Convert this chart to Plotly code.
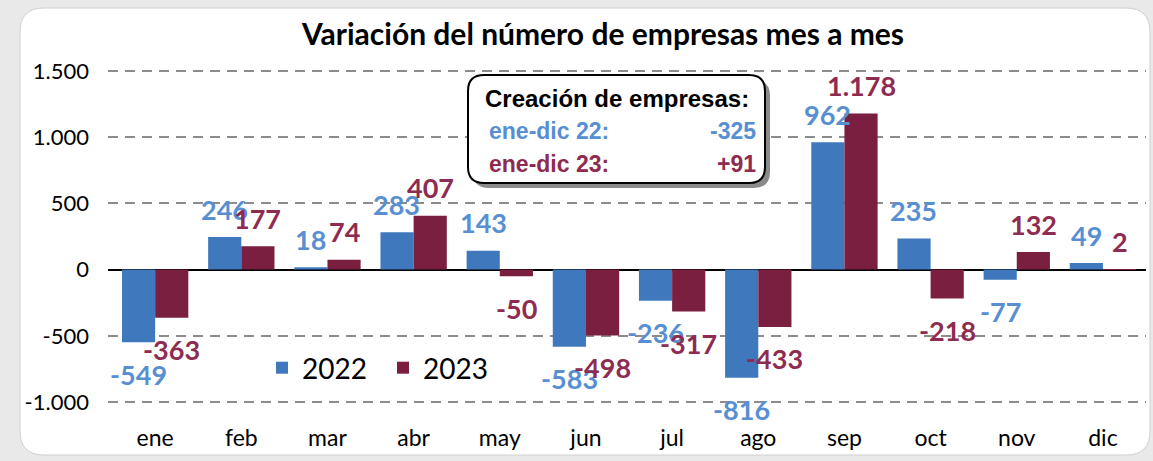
import plotly.graph_objects as go

months = ["ene", "feb", "mar", "abr", "may", "jun", "jul", "ago", "sep", "oct", "nov", "dic"]
v2022 = [-549, 246, 18, 283, 143, -583, -236, -816, 962, 235, -77, 49]
v2023 = [-363, 177, 74, 407, -50, -498, -317, -433, 1178, -218, 132, 2]
y_ticks = [-1000, -500, 0, 500, 1000, 1500]
y_tick_text = ["-1.000", "-500", "0", "500", "1.000", "1.500"]
box_title = "Creación de empresas:"
box_rows = [("ene-dic 22:", "-325"), ("ene-dic 23:", "+91")]

W, H = 1153, 461
ML, MR, MT, MB = 108, 7, 69, 57
PW, PH = W - ML - MR, H - MT - MB

BLUE = "#3f78bd"
RED = "#7a1f40"
BLUE_TXT = "#588fd2"
RED_TXT = "#8e2b50"
FONT = "Lato"


def px(x):
    return (x - ML) / PW


def py(y):
    return (H - MB - y) / PH


def rounded(x0, y0, x1, y1, r):
    # pixel rect -> paper path with rounded corners
    rx, ry = r / PW, r / PH
    a, b, c, d = px(x0), py(y1), px(x1), py(y0)
    return (f"M {a+rx},{b} L {c-rx},{b} Q {c},{b} {c},{b+ry} L {c},{d-ry} Q {c},{d} {c-rx},{d} "
            f"L {a+rx},{d} Q {a},{d} {a},{d-ry} L {a},{b+ry} Q {a},{b} {a+rx},{b} Z")


def fmt(v):
    s = f"{abs(v):,}".replace(",", ".")
    return ("-" if v < 0 else "") + s


fig = go.Figure()
fig.add_trace(go.Bar(x=months, y=v2022, name="2022", marker=dict(color=BLUE, line=dict(width=0))))
fig.add_trace(go.Bar(x=months, y=v2023, name="2023", marker=dict(color=RED, line=dict(width=0))))

bar_px = PW / len(months) * (1 - 0.23) / 2
annotations = []
for vals, col, sh in ((v2022, BLUE_TXT, -bar_px / 2), (v2023, RED_TXT, bar_px / 2)):
    for m, v in zip(months, vals):
        annotations.append(dict(x=m, y=v, xref="x", yref="y", text=fmt(v), showarrow=False,
                                xshift=sh, yshift=28 if v >= 0 else -32,
                                font=dict(family=FONT, size=27, color=col, weight="bold")))

# text box
bx0, by0, bx1, by1 = 468, 75, 765, 183
annotations.append(dict(xref="paper", yref="paper", x=px((bx0 + bx1) / 2), y=py(98), text=box_title,
                        showarrow=False, xanchor="center", yanchor="middle",
                        font=dict(family="Liberation Sans", size=24, color="#000000", weight="bold")))
for (lab, val), col, yy in zip(box_rows, (BLUE_TXT, RED_TXT), (131, 164)):
    annotations.append(dict(xref="paper", yref="paper", x=px(487), y=py(yy), text=lab, showarrow=False,
                            xanchor="left", yanchor="middle",
                            font=dict(family="Liberation Sans", size=23, color=col, weight="bold")))
    annotations.append(dict(xref="paper", yref="paper", x=px(758), y=py(yy), text=val, showarrow=False,
                            xanchor="right", yanchor="middle",
                            font=dict(family="Liberation Sans", size=23, color=col, weight="bold")))

annotations.append(dict(xref="paper", yref="paper", x=px(602), y=py(33), text="Variación del número de empresas mes a mes",
                        showarrow=False, xanchor="center", yanchor="middle",
                        font=dict(family=FONT, size=30, color="#000000", weight="bold")))

shapes = [
    dict(type="path", xref="paper", yref="paper", path=rounded(20, 8, 1150, 455, 24),
         fillcolor="#ffffff", line=dict(color="#d0d0d0", width=1), layer="below"),
    dict(type="path", xref="paper", yref="paper", path=rounded(bx0 + 5, by0 + 5, bx1 + 5, by1 + 5, 16),
         fillcolor="#8a8a8a", line=dict(width=0), layer="above"),
    dict(type="path", xref="paper", yref="paper", path=rounded(bx0, by0, bx1, by1, 16),
         fillcolor="#ffffff", line=dict(color="#000000", width=2), layer="above"),
]

fig.update_layout(
    width=W, height=H,
    margin=dict(l=ML, r=MR, t=MT, b=MB),
    paper_bgcolor="#e9e9e9", plot_bgcolor="rgba(0,0,0,0)",
    barmode="group", bargap=0.23, bargroupgap=0,
    font=dict(family=FONT, color="#000000"),
    showlegend=True,
    legend=dict(orientation="h", x=px(262), y=py(368), xanchor="left", yanchor="middle",
                bgcolor="rgba(0,0,0,0)", font=dict(family=FONT, size=28, color="#000000"),
                itemwidth=30, entrywidth=76, entrywidthmode="pixels", traceorder="normal"),
    annotations=annotations, shapes=shapes,
)
fig.update_yaxes(range=[-1015, 1515], tickvals=y_ticks, ticktext=y_tick_text,
                 showgrid=True, gridcolor="#8c8c8c", gridwidth=2, griddash="10px,7px",
                 zeroline=True, zerolinecolor="#000000", zerolinewidth=2,
                 tickfont=dict(family=FONT, size=22, color="#000000"), ticks="", showline=False,
                 ticklabelstandoff=18)
fig.update_xaxes(showgrid=False, showline=False, ticks="",
                 tickfont=dict(family=FONT, size=23, color="#000000"), ticklabelstandoff=18)

fig.write_html("out.html")
